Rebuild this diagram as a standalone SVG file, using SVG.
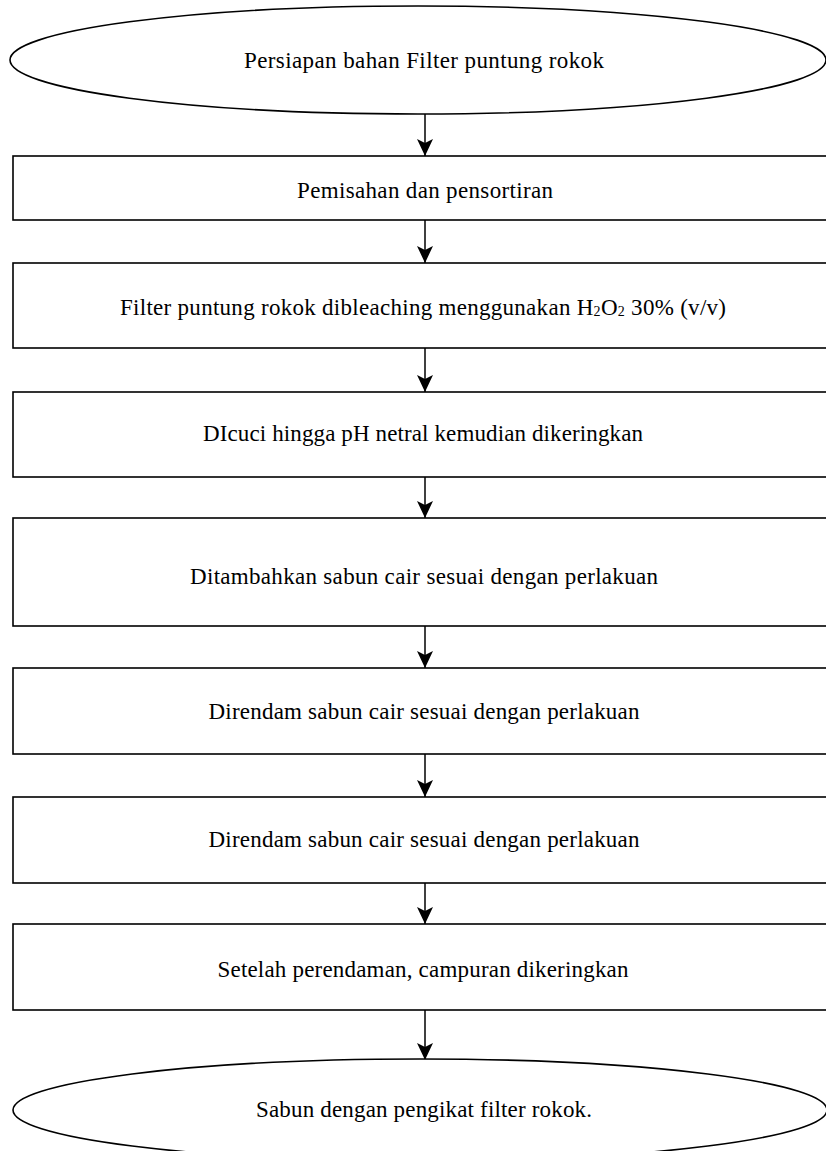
<svg xmlns="http://www.w3.org/2000/svg" width="826" height="1151" viewBox="0 0 826 1151">
<defs>
<style>
.shape{fill:#fff;stroke:#000;stroke-width:1.6}
.lbl{font-family:"Liberation Serif","Times New Roman",serif;font-size:23px;fill:#000;text-anchor:middle}
.conn{stroke:#000;stroke-width:1.5;fill:none}
</style>
<marker id="ah" markerUnits="userSpaceOnUse" markerWidth="18" markerHeight="18" viewBox="0 0 18 18" refX="17" refY="9" orient="auto">
<path d="M0,1 L17,9 L0,17 L4,9 Z" fill="#000"/>
</marker>
</defs>
<rect width="826" height="1151" fill="#fff"/>
<g id="connectors">
<line class="conn" x1="425" y1="113" x2="425" y2="156" marker-end="url(#ah)"/>
<line class="conn" x1="425" y1="220" x2="425" y2="263" marker-end="url(#ah)"/>
<line class="conn" x1="425" y1="348" x2="425" y2="392" marker-end="url(#ah)"/>
<line class="conn" x1="425" y1="477" x2="425" y2="518" marker-end="url(#ah)"/>
<line class="conn" x1="425" y1="626" x2="425" y2="668" marker-end="url(#ah)"/>
<line class="conn" x1="425" y1="754" x2="425" y2="797" marker-end="url(#ah)"/>
<line class="conn" x1="425" y1="883" x2="425" y2="924" marker-end="url(#ah)"/>
<line class="conn" x1="425" y1="1010" x2="425" y2="1060" marker-end="url(#ah)"/>
</g>
<g id="n0">
<ellipse class="shape" cx="418" cy="60" rx="408" ry="54"/>
<text class="lbl" x="424" y="68" textLength="360" lengthAdjust="spacing">Persiapan bahan Filter puntung rokok</text>
</g>
<g id="n1">
<rect class="shape" x="13" y="156" width="830" height="64"/>
<text class="lbl" x="425" y="198" textLength="256" lengthAdjust="spacing">Pemisahan dan pensortiran</text>
</g>
<g id="n2">
<rect class="shape" x="13" y="263" width="830" height="85"/>
<text class="lbl" x="423" y="315" textLength="606" lengthAdjust="spacing">Filter puntung rokok dibleaching menggunakan H<tspan font-size="14" dy="1">2</tspan><tspan dy="-1">O</tspan><tspan font-size="14" dy="1">2</tspan><tspan dy="-1"> 30% (v/v)</tspan></text>
</g>
<g id="n3">
<rect class="shape" x="13" y="392" width="830" height="85"/>
<text class="lbl" x="423" y="441" textLength="440" lengthAdjust="spacing">DIcuci hingga pH netral kemudian dikeringkan</text>
</g>
<g id="n4">
<rect class="shape" x="13" y="518" width="830" height="108"/>
<text class="lbl" x="424" y="584" textLength="468" lengthAdjust="spacing">Ditambahkan sabun cair sesuai dengan perlakuan</text>
</g>
<g id="n5">
<rect class="shape" x="13" y="668" width="830" height="86"/>
<text class="lbl" x="424" y="719" textLength="431" lengthAdjust="spacing">Direndam sabun cair sesuai dengan perlakuan</text>
</g>
<g id="n6">
<rect class="shape" x="13" y="797" width="830" height="86"/>
<text class="lbl" x="424" y="847" textLength="431" lengthAdjust="spacing">Direndam sabun cair sesuai dengan perlakuan</text>
</g>
<g id="n7">
<rect class="shape" x="13" y="924" width="830" height="86"/>
<text class="lbl" x="423" y="977" textLength="411" lengthAdjust="spacing">Setelah perendaman, campuran dikeringkan</text>
</g>
<g id="n8">
<ellipse class="shape" cx="420" cy="1110" rx="407" ry="51"/>
<text class="lbl" x="424" y="1117" textLength="336" lengthAdjust="spacing">Sabun dengan pengikat filter rokok.</text>
</g>
</svg>
